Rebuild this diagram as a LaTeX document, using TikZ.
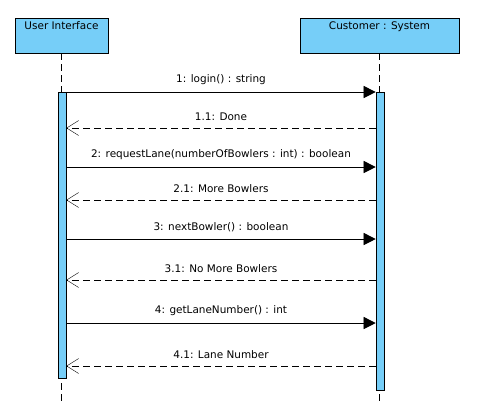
\documentclass[tikz,border=0pt]{standalone}
\usepackage{fontspec}
\setmainfont{DejaVu Sans}
\usepackage{tikz}
\usetikzlibrary{positioning,calc,arrows.meta}
\definecolor{lifeblue}{RGB}{118,206,248}
\tikzset{
    head/.style={draw, semithick, fill=lifeblue, minimum width=93bp, minimum height=35bp, inner sep=0pt},
    headtext/.style={below, inner sep=0pt, font=\fontsize{10.5}{12}\selectfont},
    actbar/.style={draw, semithick, fill=lifeblue, minimum width=8bp, inner sep=0pt},
    lifeline/.style={dash pattern=on 7bp off 4bp},
    call/.style={-{Triangle[length=12bp,width=12bp]}},
    reply/.style={dash pattern=on 7bp off 4bp, -{Straight Barb[length=12bp,width=15bp]}},
    msg/.style={above, inner sep=0pt, yshift=7bp, font=\fontsize{10.5}{12}\selectfont}
}
\begin{document}
\begin{tikzpicture}[x=1bp, y=-1bp]
    \useasboundingbox (0,0) rectangle (479,403);

    % Lifeline heads
    \node[head] (ui) at (61.5,35.5) {};
    \node[head, minimum width=159bp] (sys) at (379.5,35.5) {};
    \node[headtext] (uitext) at ([yshift=-4bp]ui.north) {User Interface};
    \node[headtext] (systext) at ([yshift=-4bp]sys.north) {Customer : System};
    \coordinate (uiend) at (61.5,403);
    \coordinate (sysend) at (379.5,403);

    % Lifelines
    \draw[lifeline] (ui.south) -- (uiend);
    \draw[lifeline] (sys.south) -- (sysend);

    % Activation bars
    \node[actbar, minimum height=286bp, anchor=north] (uiact) at (62,92) {};
    \node[actbar, minimum height=298bp, anchor=north] (sysact) at (380,92) {};

    % Messages
    \foreach \y/\name in {92/m1, 128/m2, 167/m3, 200/m4, 239/m5, 280/m6, 323/m7, 366/m8}
        \coordinate (\name) at (0,\y);

    \draw[call] (uiact.east |- m1) -- node[msg] {1: login() : string} (sysact.west |- m1);
    \draw[reply] (sysact.west |- m2) -- node[msg] {1.1: Done} (uiact.east |- m2);
    \draw[call] (uiact.east |- m3) -- node[msg] {2: requestLane(numberOfBowlers : int) : boolean} (sysact.west |- m3);
    \draw[reply] (sysact.west |- m4) -- node[msg] {2.1: More Bowlers} (uiact.east |- m4);
    \draw[call] (uiact.east |- m5) -- node[msg] {3: nextBowler() : boolean} (sysact.west |- m5);
    \draw[reply] (sysact.west |- m6) -- node[msg] {3.1: No More Bowlers} (uiact.east |- m6);
    \draw[call] (uiact.east |- m7) -- node[msg] {4: getLaneNumber() : int} (sysact.west |- m7);
    \draw[reply] (sysact.west |- m8) -- node[msg] {4.1: Lane Number} (uiact.east |- m8);
\end{tikzpicture}
\end{document}
